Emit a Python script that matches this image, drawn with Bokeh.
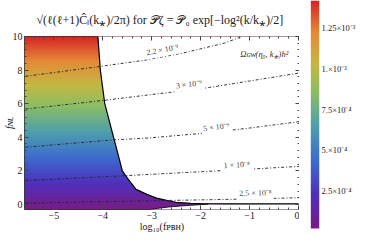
import numpy as np
from bokeh.plotting import figure
from bokeh.models import (LinearColorMapper, FixedTicker, LinearAxis, CustomJSTickFormatter, Range1d)
from bokeh.layouts import row, column
from bokeh.embed import file_html
from bokeh.resources import INLINE
from bokeh.core.properties import value

# ---------------- data ----------------
upper_x = [-4.10, -4.05, -3.96, -3.78, -3.60, -3.48, -3.32, -3.10, -2.90, -2.70, -2.50, -2.20, -2.00, -1.50, -1.00, 0.00]
upper_y = [10.0, 8.0, 6.0, 4.0, 2.0, 1.5, 0.9, 0.6, 0.38, 0.25, 0.12, 0.07, 0.05, 0.04, 0.03, 0.03]
lower_x = [-3.02, -2.85, -2.65, -2.45, -2.20, -2.00, -1.85]
lower_y = [-0.30, -0.22, -0.15, -0.10, -0.05, -0.01, 0.02]

c_labels = ["2.2 × 10⁻⁹", "3 × 10⁻⁹", "5 × 10⁻⁹", "1 × 10⁻⁸", "2.5 × 10⁻⁸"]
c_x = [
    [-5.58, -4.10, -3.16, -2.32, -1.52, -1.15],
    [-5.58, -3.94, -3.10, -1.92, -1.00, 0.02],
    [-5.58, -3.76, -3.10, -1.90, -1.00, 0.02],
    [-5.58, -3.50, -2.12, -1.00, 0.02],
    [-5.58, -3.40, -1.50, 0.02],
]
c_y = [
    [7.63, 8.20, 8.58, 9.04, 9.60, 10.0],
    [5.68, 6.21, 6.51, 6.92, 7.35, 7.83],
    [3.41, 3.85, 3.95, 4.25, 4.55, 4.93],
    [1.42, 1.72, 1.93, 2.10, 2.27],
    [0.07, 0.20, 0.30, 0.40],
]
lab_x = [-2.78, -2.24, -1.68, -1.26, -0.88]
lab_y = [9.20, 7.15, 4.60, 2.35, 0.68]

x_ticks = [-5, -4, -3, -2, -1, 0]
y_ticks = [0, 2, 4, 6, 8, 10]
cb_low, cb_high = 2.4e-5, 1.415e-3
cb_ticks = [2.5e-4, 5e-4, 7.5e-4, 1e-3, 1.25e-3]
cb_tick_labels = ["2.5×10⁻⁴", "5.×10⁻⁴", "7.5×10⁻⁴", "1.×10⁻³", "1.25×10⁻³"]

title_text = "√(ℓ(ℓ+1)Ĉₗ(k⁎)/2π)  for  𝒫ζ = 𝒫₀ exp[−log²(k/k⁎)/2]"

anchors = [(0.00, (120, 28, 134)), (0.15, (78, 48, 188)), (0.30, (60, 108, 205)),
           (0.45, (78, 160, 172)), (0.60, (140, 190, 100)), (0.72, (196, 184, 66)),
           (0.86, (228, 138, 55)), (1.00, (214, 38, 38))]
pos = np.array([a[0] for a in anchors])
cols = np.array([a[1] for a in anchors], dtype=float)
tt = np.linspace(0, 1, 256)
palette = ["#%02x%02x%02x" % tuple(int(round(np.interp(t, pos, cols[:, k]))) for k in range(3)) for t in tt]

SERIF = "Liberation Serif"
XR = (-5.60, 0.02)
YR = (-0.30, 10.0)
FW, FH = 280, 174

p = figure(width=299, height=234, x_range=Range1d(*XR), y_range=Range1d(*YR),
           output_backend="svg", toolbar_location=None,
           min_border_left=0, min_border_right=0, min_border_top=0, min_border_bottom=0)
p.background_fill_color = "white"
p.border_fill_color = "white"
p.outline_line_color = "#333333"
p.outline_line_width = 1
p.grid.visible = False

fmap = LinearColorMapper(palette=palette, low=YR[0], high=YR[1])
field = np.repeat(np.linspace(YR[0], YR[1], 400).reshape(-1, 1), 2, axis=1)
p.image(image=[field], x=XR[0], y=YR[0], dw=XR[1] - XR[0], dh=YR[1] - YR[0], color_mapper=fmap)

top_px = upper_x + [0.5, 0.5, upper_x[0]]
top_py = upper_y + [upper_y[-1], 10.5, 10.5]
p.patch(top_px, top_py, fill_color="white", line_color=None)
bot_px = lower_x + [0.5, 0.5, lower_x[0]]
bot_py = lower_y + [upper_y[-1], -0.5, -0.5]
p.patch(bot_px, bot_py, fill_color="white", line_color=None)

p.line(upper_x, upper_y, line_color="black", line_width=1.2)
p.line(lower_x, lower_y, line_color="black", line_width=0.8)

sx = FW / (XR[1] - XR[0])
sy = FH / (YR[1] - YR[0])
for xs, ys in zip(c_x, c_y):
    p.line(xs, ys, line_color="#222222", line_width=0.9, line_dash="3 2 1 2")
angles = []
for xs, ys, lx in zip(c_x, c_y, lab_x):
    xs_a = np.array(xs); ys_a = np.array(ys)
    i = int(np.clip(np.searchsorted(xs_a, lx), 1, len(xs_a) - 1))
    slope = (ys_a[i] - ys_a[i - 1]) / (xs_a[i] - xs_a[i - 1])
    angles.append(float(np.arctan(slope * sy / sx)))
p.text(x=lab_x, y=lab_y, text=c_labels, angle=angles, text_font=value(SERIF),
       text_font_size="8px", text_color="#444444", text_align="center", text_baseline="middle",
       background_fill_color="white", padding=2)
p.text(x=[-0.70], y=[8.93], text=["Ωɢᴡ(η₀, k⁎)h²"], text_font=value(SERIF), text_font_style="italic",
       text_font_size="8.5px", text_color="#333333", text_align="center", text_baseline="middle")

minus_fmt = CustomJSTickFormatter(code="return tick < 0 ? '\u2212' + String(-tick) : String(tick);")
blank_fmt = CustomJSTickFormatter(code="return '';")
xminor = [round(-5.6 + 0.2 * i, 2) for i in range(29)]
yminor = [round(0.4 * i, 2) for i in range(26)]
p.xaxis.ticker = FixedTicker(ticks=x_ticks, minor_ticks=xminor)
p.yaxis.ticker = FixedTicker(ticks=y_ticks, minor_ticks=yminor)
p.xaxis.formatter = minus_fmt
p.yaxis.formatter = minus_fmt

def style_axis(ax, labels=True):
    ax.axis_line_color = None
    ax.major_tick_in = 4
    ax.major_tick_out = 0
    ax.minor_tick_in = 2
    ax.minor_tick_out = 0
    ax.major_tick_line_color = "#444444"
    ax.minor_tick_line_color = "#444444"
    ax.major_label_text_font = SERIF
    ax.major_label_text_font_size = "10px" if labels else "1px"
    ax.major_label_text_color = "#222222" if labels else None
    ax.major_label_standoff = 2 if labels else 0

style_axis(p.xaxis[0]); style_axis(p.yaxis[0])
p.xaxis.axis_label = "log₁₀(fᴘʙʜ)"
p.yaxis.axis_label = "fɴʟ"
for ax in (p.xaxis[0], p.yaxis[0]):
    ax.axis_label_text_font = SERIF
    ax.axis_label_text_font_size = "10px"
    ax.axis_label_text_font_style = "normal"
    ax.axis_label_text_color = "#222222"
p.xaxis.axis_label_standoff = -1
p.yaxis.axis_label_standoff = -5
p.yaxis.axis_label_text_font_style = "italic"

top_ax = LinearAxis(ticker=FixedTicker(ticks=x_ticks, minor_ticks=xminor), formatter=blank_fmt)
right_ax = LinearAxis(ticker=FixedTicker(ticks=y_ticks, minor_ticks=yminor), formatter=blank_fmt)
style_axis(top_ax, labels=False); style_axis(right_ax, labels=False)
p.add_layout(top_ax, "above")
p.add_layout(right_ax, "right")

p.title.text = title_text
p.title.text_font = SERIF
p.title.text_font_size = "12px"
p.title.text_font_style = "normal"
p.title.text_color = "#222222"
p.title.align = "left"
p.title.offset = 12
p.title.standoff = 20

# ---------------- colour bar as its own figure ----------------
px_per_val = 228.0 / (cb_high - cb_low)
cb_lo_range = cb_low - 6.0 / px_per_val
cb = figure(width=59, height=234, x_range=Range1d(-1.3, 1), y_range=Range1d(cb_lo_range, cb_high),
            output_backend="svg", toolbar_location=None, x_axis_location=None, y_axis_location="right",
            min_border_left=0, min_border_right=0, min_border_top=0, min_border_bottom=0)
if "frame_align" in cb.properties():
    cb.frame_align = False
    p.frame_align = False
cb.outline_line_color = None
cb.grid.visible = False
cb.background_fill_color = "white"
cb.border_fill_color = "white"
cmap = LinearColorMapper(palette=palette, low=cb_low, high=cb_high)
bar = np.repeat(np.linspace(cb_low, cb_high, 256).reshape(-1, 1), 2, axis=1)
cb.image(image=[bar], x=0, y=cb_low, dw=1, dh=cb_high - cb_low, color_mapper=cmap)
cax = cb.yaxis[0]
cax.ticker = FixedTicker(ticks=cb_ticks, minor_ticks=[])
cax.major_label_overrides = {t: s for t, s in zip(cb_ticks, cb_tick_labels)}
cax.axis_line_color = None
cax.major_tick_in = 0
cax.major_tick_out = 0
cax.minor_tick_in = 0
cax.minor_tick_out = 0
cax.major_label_standoff = 2
cax.major_label_text_font = SERIF
cax.major_label_text_font_size = "8.5px"
cax.major_label_text_color = "#222222"

layout = row(p, column(cb))
open("out.html", "w").write(file_html(layout, INLINE))
